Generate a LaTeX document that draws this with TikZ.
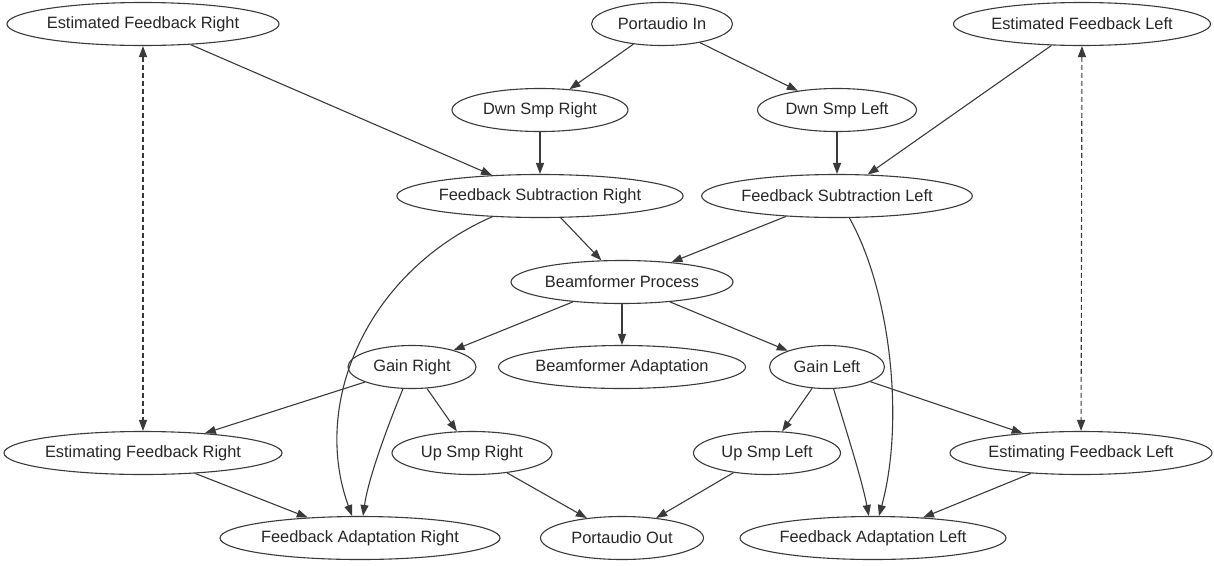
\documentclass[tikz,border=0pt]{standalone}
\usepackage{fontspec}
\setmainfont{Liberation Sans}
\usetikzlibrary{shapes.geometric,arrows.meta}
\definecolor{ink}{HTML}{3A3A3A}
\definecolor{txt}{HTML}{262626}
\begin{document}
\begin{tikzpicture}[x=1pt,y=-1pt,
  state/.style={ellipse,draw=ink,line width=1.1pt,inner sep=0pt,
    minimum height=43pt,text=txt,font=\fontsize{16.4}{18}\selectfont},
  edge/.style={draw=ink,line width=1.1pt,-{Triangle[length=11pt,width=8pt]}},
  feedback/.style={draw=ink,line width=1.1pt,dash pattern=on 5pt off 3pt,
    {Triangle[length=11pt,width=8pt]}-{Triangle[length=11pt,width=8pt]}}]
\useasboundingbox (0,0) rectangle (1214,565);

% rank 1
\node[state,minimum width=270pt] (efr)  at (143,24)  {Estimated Feedback Right};
\node[state,minimum width=141pt] (pin)  at (662,24)  {Portaudio In};
\node[state,minimum width=257pt] (efl)  at (1082,24) {Estimated Feedback Left};
% rank 2
\node[state,minimum width=176pt] (dsr)  at (540,110) {Dwn Smp Right};
\node[state,minimum width=159pt] (dsl)  at (837,110) {Dwn Smp Left};
% rank 3
\node[state,minimum width=284pt] (fsr)  at (540,196) {Feedback Subtraction Right};
\node[state,minimum width=270pt] (fsl)  at (837,196) {Feedback Subtraction Left};
% rank 4
\node[state,minimum width=222pt] (bp)   at (622,282) {Beamformer Process};
% rank 5
\node[state,minimum width=128pt] (gr)   at (412,367) {Gain Right};
\node[state,minimum width=247pt] (ba)   at (622,367) {Beamformer Adaptation};
\node[state,minimum width=115pt] (gl)   at (827,367) {Gain Left};
% rank 6
\node[state,minimum width=278pt] (efgr) at (143,453) {Estimating Feedback Right};
\node[state,minimum width=160pt] (usr)  at (472,453) {Up Smp Right};
\node[state,minimum width=147pt] (usl)  at (767,453) {Up Smp Left};
\node[state,minimum width=262pt] (efgl) at (1081,453) {Estimating Feedback Left};
% rank 7
\node[state,minimum width=280pt] (far)  at (360,538) {Feedback Adaptation Right};
\node[state,minimum width=163pt] (pout) at (622,538) {Portaudio Out};
\node[state,minimum width=266pt] (fal)  at (873,538) {Feedback Adaptation Left};

% input and subtraction
\draw[edge] (pin) -- (dsr);
\draw[edge] (pin) -- (dsl);
\draw[edge] (efr) -- (fsr);
\draw[edge] (dsr) -- (fsr);
\draw[edge] (dsl) -- (fsl);
\draw[edge] (efl) -- (fsl);
\draw[edge] (fsr) -- (bp);
\draw[edge] (fsl) -- (bp);
\draw[edge] (fsr) .. controls (370,270) and (310,400) .. (far);
\draw[edge] (fsl) .. controls (890,290) and (905,420) .. (fal);

% beamformer and gains
\draw[edge] (bp) -- (gr);
\draw[edge] (bp) -- (ba);
\draw[edge] (bp) -- (gl);
\draw[edge] (gr) -- (efgr);
\draw[edge] (gr) .. controls (386,430) and (368,480) .. (far);
\draw[edge] (gr) -- (usr);
\draw[edge] (gl) -- (usl);
\draw[edge] (gl) .. controls (846,430) and (862,480) .. (fal);
\draw[edge] (gl) -- (efgl);

% outputs
\draw[edge] (efgr) -- (far);
\draw[edge] (efgl) -- (fal);
\draw[edge] (usr) -- (pout);
\draw[edge] (usl) -- (pout);

% feedback estimate links
\draw[feedback] (efr) -- (efgr);
\draw[feedback] (efl) -- (efgl);
\end{tikzpicture}
\end{document}
